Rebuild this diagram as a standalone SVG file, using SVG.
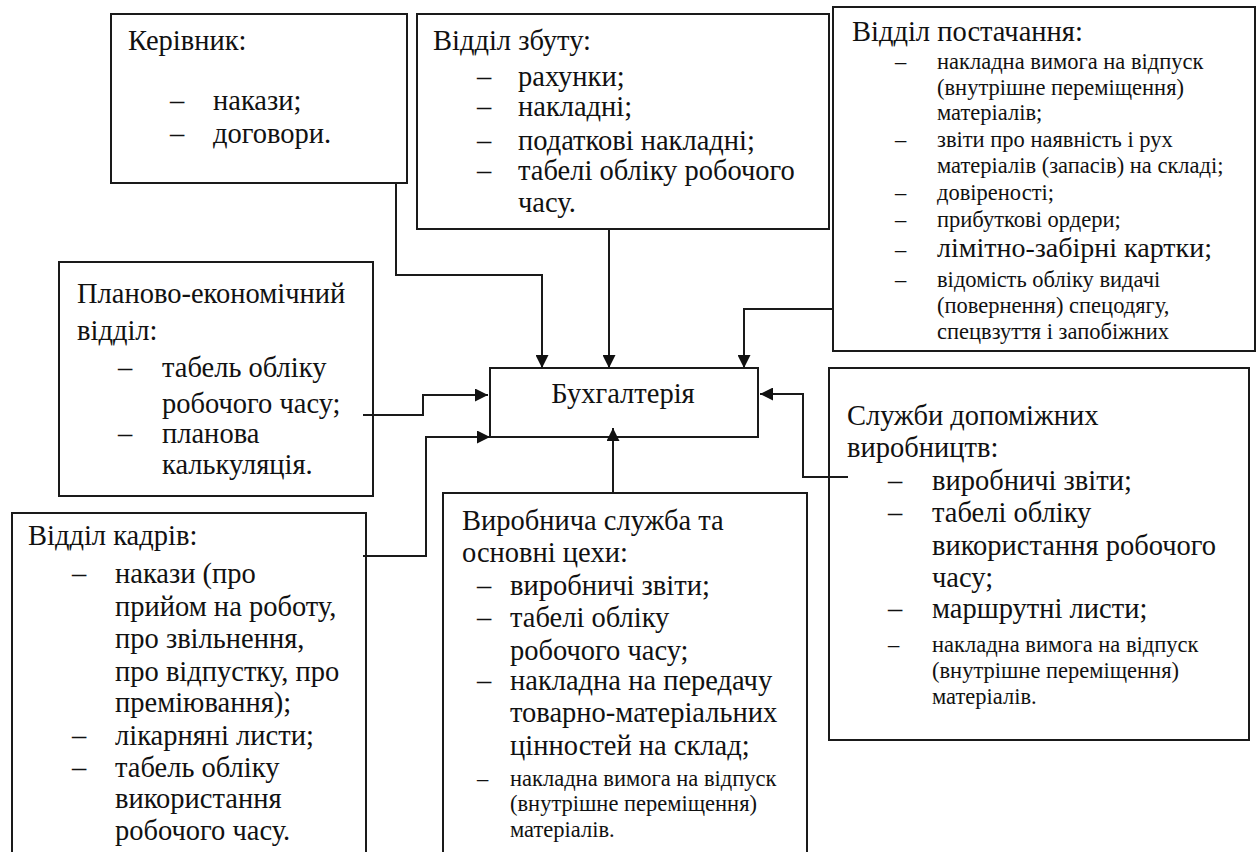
<svg xmlns="http://www.w3.org/2000/svg" width="1256" height="852" viewBox="0 0 1256 852">
<style>
  .box { fill: #fff; stroke: #1a1a1a; stroke-width: 2; }
  .t { font-family: "Liberation Serif", serif; font-size: 28.5px; fill: #111; }
  .s { font-family: "Liberation Serif", serif; font-size: 22.5px; fill: #111; }
  .m { font-family: "Liberation Serif", serif; font-size: 28px; fill: #111; }
  .c { fill: none; stroke: #1a1a1a; stroke-width: 2; }
</style>
<defs>
  <marker id="ah" markerUnits="userSpaceOnUse" markerWidth="13" markerHeight="13" refX="13" refY="6.5" orient="auto">
    <path d="M0,0 L13,6.5 L0,13 z" fill="#111"/>
  </marker>
</defs>
<rect width="1256" height="852" fill="#fff"/>

<g id="kerivnyk">
  <rect class="box" x="111" y="14" width="296" height="169"/>
  <text class="t" x="128" y="50">Керівник:</text>
  <text class="t" x="170" y="110">–</text><text class="t" x="213" y="110">накази;</text>
  <text class="t" x="170" y="143">–</text><text class="t" x="213" y="143">договори.</text>
</g>

<g id="zbut">
  <rect class="box" x="417" y="14" width="412" height="215"/>
  <text class="t" x="433" y="50">Відділ збуту:</text>
  <text class="t" x="477" y="86">–</text><text class="t" x="518" y="86">рахунки;</text>
  <text class="t" x="477" y="116">–</text><text class="t" x="518" y="116">накладні;</text>
  <text class="t" x="477" y="150">–</text><text class="t" x="518" y="150">податкові накладні;</text>
  <text class="t" x="477" y="180">–</text><text class="t" x="518" y="180">табелі обліку робочого</text>
  <text class="t" x="518" y="212">часу.</text>
</g>

<g id="postachannya">
  <rect class="box" x="833" y="7" width="422" height="344"/>
  <text class="t" x="852" y="41">Відділ постачання:</text>
  <text class="s" x="895" y="69">–</text><text class="s" x="937" y="69">накладна вимога на відпуск</text>
  <text class="s" x="937" y="95">(внутрішне переміщення)</text>
  <text class="s" x="937" y="120">матеріалів;</text>
  <text class="s" x="895" y="147">–</text><text class="s" x="937" y="147">звіти про наявність і рух</text>
  <text class="s" x="937" y="173">матеріалів (запасів) на складі;</text>
  <text class="s" x="895" y="200">–</text><text class="s" x="937" y="200">довіреності;</text>
  <text class="s" x="895" y="227">–</text><text class="s" x="937" y="227">прибуткові ордери;</text>
  <text class="s" x="895" y="257">–</text><text class="m" x="937" y="257">лімітно-забірні картки;</text>
  <text class="s" x="895" y="287">–</text><text class="s" x="937" y="287">відомість обліку видачі</text>
  <text class="s" x="937" y="313">(повернення) спецодягу,</text>
  <text class="s" x="937" y="339">спецвзуття і запобіжних</text>
</g>

<g id="planovo">
  <rect class="box" x="59" y="262" width="314" height="234"/>
  <text class="t" x="77" y="303">Планово-економічний</text>
  <text class="t" x="77" y="340">відділ:</text>
  <text class="t" x="118" y="377">–</text><text class="t" x="162" y="377">табель обліку</text>
  <text class="t" x="162" y="413">робочого часу;</text>
  <text class="t" x="118" y="443">–</text><text class="t" x="162" y="443">планова</text>
  <text class="t" x="162" y="474">калькуляція.</text>
</g>

<g id="buhgalteria">
  <rect class="box" x="490" y="368" width="268" height="69"/>
  <text class="t" x="623" y="403" text-anchor="middle">Бухгалтерія</text>
</g>

<g id="sluzhby">
  <rect class="box" x="829" y="368" width="420" height="372"/>
  <text class="t" x="847" y="425">Служби допоміжних</text>
  <text class="t" x="847" y="457">виробництв:</text>
  <text class="t" x="888" y="490">–</text><text class="t" x="932" y="490">виробничі звіти;</text>
  <text class="t" x="888" y="522">–</text><text class="t" x="932" y="522">табелі обліку</text>
  <text class="t" x="932" y="555">використання робочого</text>
  <text class="t" x="932" y="587">часу;</text>
  <text class="t" x="888" y="618">–</text><text class="t" x="932" y="618">маршрутні листи;</text>
  <text class="s" x="888" y="652">–</text><text class="s" x="932" y="652">накладна вимога на відпуск</text>
  <text class="s" x="932" y="678">(внутрішне переміщення)</text>
  <text class="s" x="932" y="704">матеріалів.</text>
</g>

<g id="kadry">
  <rect class="box" x="12" y="513" width="354" height="360"/>
  <text class="t" x="28" y="545">Відділ кадрів:</text>
  <text class="t" x="72" y="583">–</text><text class="t" x="115" y="583">накази (про</text>
  <text class="t" x="115" y="616">прийом на роботу,</text>
  <text class="t" x="115" y="648">про звільнення,</text>
  <text class="t" x="115" y="681">про відпустку, про</text>
  <text class="t" x="115" y="712">преміювання);</text>
  <text class="t" x="72" y="745">–</text><text class="t" x="115" y="745">лікарняні листи;</text>
  <text class="t" x="72" y="777">–</text><text class="t" x="115" y="777">табель обліку</text>
  <text class="t" x="115" y="808">використання</text>
  <text class="t" x="115" y="840">робочого часу.</text>
</g>

<g id="vyrobnycha">
  <rect class="box" x="443" y="493" width="364" height="380"/>
  <text class="t" x="462" y="530">Виробнича служба та</text>
  <text class="t" x="462" y="562">основні цехи:</text>
  <text class="t" x="477" y="595">–</text><text class="t" x="510" y="595">виробничі звіти;</text>
  <text class="t" x="477" y="627">–</text><text class="t" x="510" y="627">табелі обліку</text>
  <text class="t" x="510" y="660">робочого часу;</text>
  <text class="t" x="477" y="690">–</text><text class="t" x="510" y="690">накладна на передачу</text>
  <text class="t" x="510" y="722">товарно-матеріальних</text>
  <text class="t" x="510" y="755">цінностей на склад;</text>
  <text class="s" x="477" y="786">–</text><text class="s" x="510" y="786">накладна вимога на відпуск</text>
  <text class="s" x="510" y="811">(внутрішне переміщення)</text>
  <text class="s" x="510" y="837">матеріалів.</text>
</g>

<g id="connectors">
  <path class="c" d="M396,183 V275 H542 V368" marker-end="url(#ah)"/>
  <path class="c" d="M609,229 V368" marker-end="url(#ah)"/>
  <path class="c" d="M833,309 H744 V368" marker-end="url(#ah)"/>
  <path class="c" d="M363,415 H423 V395 H488" marker-end="url(#ah)"/>
  <path class="c" d="M363,556 H426 V437 H490" marker-end="url(#ah)"/>
  <path class="c" d="M613,493 V428" marker-end="url(#ah)"/>
  <path class="c" d="M848,477 H803 V394 H760" marker-end="url(#ah)"/>
</g>
</svg>
